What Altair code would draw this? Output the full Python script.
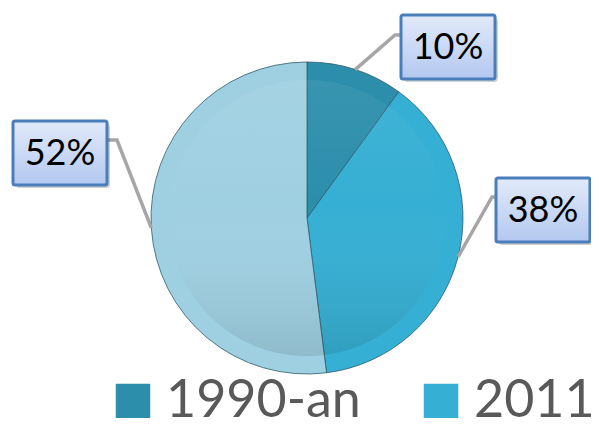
import math
import altair as alt
import pandas as pd

# ---------------- data ----------------
categories = ["1990-an", "2011", "Lainnya"]
values = [10, 38, 52]
labels = ["10%", "38%", "52%"]
legend_shown = ["1990-an", "2011"]

# ---------------- styles / layout ----------------
colors = ["#2C8EAB", "#35AFD3", "#9FD0E2"]
W, H = 583, 410
CX, CY, R = 299, 210, 156
BOX_W, BOX_H = 94, 64
# box centre, elbow of the leader line, and which side of the box the leader meets
label_layout = {
    "1990-an": dict(bx=440, by=39, ex=387, ey=27, side="left"),
    "2011": dict(bx=535, by=202, ex=484, ey=189, side="left"),
    "Lainnya": dict(bx=52, by=145, ex=109, ey=132, side="right"),
}

pie_df = pd.DataFrame({"category": categories, "value": values,
                       "idx": list(range(len(categories)))})

total = float(sum(values))
line_rows, box_rows = [], []
cum = 0.0
for cat, v, lab in zip(categories, values, labels):
    mid = (cum + v / 2.0) / total * 2 * math.pi
    cum += v
    ex0 = CX + R * math.sin(mid)
    ey0 = CY - R * math.cos(mid)
    L = label_layout[cat]
    bx_edge = L["bx"] - BOX_W / 2 if L["side"] == "left" else L["bx"] + BOX_W / 2
    for s, (px, py) in enumerate([(ex0, ey0), (L["ex"], L["ey"]), (bx_edge, L["ey"])]):
        line_rows.append({"label": cat, "seq": s, "x": px, "y": py})
    box_rows.append({"label": cat, "text": lab,
                     "x1": L["bx"] - BOX_W / 2, "x2": L["bx"] + BOX_W / 2,
                     "y1": L["by"] - BOX_H / 2, "y2": L["by"] + BOX_H / 2,
                     "sx1": L["bx"] - BOX_W / 2 + 3, "sx2": L["bx"] + BOX_W / 2 + 3,
                     "sy1": L["by"] - BOX_H / 2 + 3, "sy2": L["by"] + BOX_H / 2 + 3,
                     "bx": L["bx"], "by": L["by"] + 1})
lines_df = pd.DataFrame(line_rows)
boxes_df = pd.DataFrame(box_rows)

xs = alt.Scale(domain=[0, W], range=[0, W], nice=False, zero=False)
ys = alt.Scale(domain=[0, H], range=[0, H], nice=False, zero=False)

one = pd.DataFrame({"k": [0]})

shadow = alt.Chart(one).mark_circle(
    size=math.pi * (R + 1) ** 2, color="#000000", opacity=0.10
).encode(x=alt.value(CX + 1), y=alt.value(CY + 4))

pie = alt.Chart(pie_df).mark_arc(
    radius=R, stroke="#2E5E6C", strokeWidth=1, strokeOpacity=0.8
).encode(
    theta=alt.Theta("value:Q", stack=True),
    color=alt.Color(
        "category:N",
        scale=alt.Scale(domain=categories, range=colors),
        legend=alt.Legend(
            orient="none", legendX=99, legendY=367, direction="horizontal",
            title=None, values=legend_shown, symbolType="square",
            symbolSize=1190, symbolStrokeWidth=0, symbolOpacity=1,
            labelFont="Lato", labelFontSize=52, labelColor="#595959",
            labelOffset=7, labelLimit=0, columnPadding=54, padding=0,
        ),
    ),
    order=alt.Order("idx:Q"),
    x=alt.value(CX),
    y=alt.value(CY),
)

shade = alt.Chart(one).mark_circle(
    size=math.pi * R * R, opacity=1, strokeWidth=0,
    fill=alt.Gradient(
        gradient="linear", x1=0, y1=0, x2=0, y2=1,
        stops=[alt.GradientStop(color="rgba(255,255,255,0.06)", offset=0),
               alt.GradientStop(color="rgba(255,255,255,0.0)", offset=0.45),
               alt.GradientStop(color="rgba(0,0,0,0.10)", offset=1)],
    ),
).encode(x=alt.value(CX), y=alt.value(CY))

leaders = alt.Chart(lines_df).mark_line(
    color="#A6A6A6", strokeWidth=3.5, strokeJoin="miter"
).encode(
    x=alt.X("x:Q", scale=xs, axis=None),
    y=alt.Y("y:Q", scale=ys, axis=None),
    detail="label:N",
    order="seq:Q",
)

box_shadow = alt.Chart(boxes_df).mark_rect(
    color="#000000", opacity=0.18, cornerRadius=3
).encode(
    x=alt.X("sx1:Q", scale=xs, axis=None), x2="sx2:Q",
    y=alt.Y("sy1:Q", scale=ys, axis=None), y2="sy2:Q",
)

boxes = alt.Chart(boxes_df).mark_rect(
    stroke="#4A7EBB", strokeWidth=3, cornerRadius=2,
    fill=alt.Gradient(
        gradient="linear", x1=0, y1=0, x2=0, y2=1,
        stops=[alt.GradientStop(color="#E2EAFA", offset=0),
               alt.GradientStop(color="#B3C8F0", offset=1)],
    ),
).encode(
    x=alt.X("x1:Q", scale=xs, axis=None), x2="x2:Q",
    y=alt.Y("y1:Q", scale=ys, axis=None), y2="y2:Q",
)

texts = alt.Chart(boxes_df).mark_text(
    font="Lato", fontSize=36, color="#000000", align="center", baseline="middle"
).encode(
    x=alt.X("bx:Q", scale=xs, axis=None),
    y=alt.Y("by:Q", scale=ys, axis=None),
    text="text:N",
)

chart = alt.layer(shadow, pie, shade, leaders, box_shadow, boxes, texts).properties(
    width=W, height=H, padding=0, autosize="none", background="white"
).configure_view(stroke=None)

chart.save("out.html", embed_options={"renderer": "svg", "actions": False})
